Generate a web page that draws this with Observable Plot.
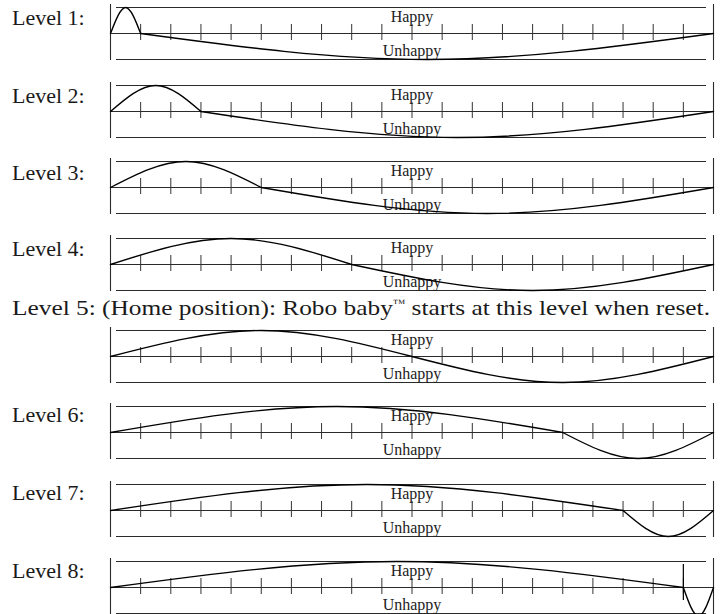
<!DOCTYPE html>
<html>
<head>
<meta charset="utf-8">
<script src="https://cdn.jsdelivr.net/npm/d3@7"></script>
<script src="https://cdn.jsdelivr.net/npm/@observablehq/plot@0.6"></script>
<style>
  html, body { margin: 0; padding: 0; background: #fff; }
  #root { position: relative; width: 723px; height: 614px; overflow: hidden; }
  #root > svg.lbl { position: absolute; left: 0; top: 0; }
  .panel { position: absolute; left: 0; }
</style>
</head>
<body>
<div id="root"></div>
<script>
// ---- data ----
const levels = [1, 2, 3, 4, 5, 6, 7, 8];
const levelLabels = [
  "Level 1:", "Level 2:", "Level 3:", "Level 4:",
  "Level 5: (Home position): Robo baby™ starts at this level when reset.",
  "Level 6:", "Level 7:", "Level 8:"
];
const crossAt   = [1, 3, 5, 8, 10, 15, 17, 19];          // tick where curve crosses from Happy to Unhappy
const peakAt    = [0.5, 1.5, 2.5, 4, 5, 7.5, 8.5, 9.5];   // position of the Happy peak
const troughAt  = [10.5, 11.5, 12.5, 14, 15, 17.5, 18.5, 19.5]; // position of the Unhappy trough
const peakHeight  = [1, 1, 1, 1, 1, 1, 1, 1];
const troughDepth = [1, 1, 1, 1, 1, 1, 1, 1.1];
const markerAt  = [null, null, null, null, null, null, null, 19];
const scaleEnds = [0, 20];
const tickPositions = [1, 2, 3, 4, 5, 6, 7, 8, 9, 10, 11, 12, 13, 14, 15, 16, 17, 18, 19];
const happyText = "Happy";
const unhappyText = "Unhappy";

// ---- layout ----
const axisY = [33, 111, 187, 264, 356, 432, 510, 587];
const labelBaseline = [25, 103, 180, 256, 315, 422, 500, 578];
const W = 723, H = 62, MT = 6, MB = 4, ML = 110, MR = 10;

const root = document.getElementById("root");

levels.forEach((lv, i) => {
  const curve = [
    {hump: "up", x: scaleEnds[0], y: 0},
    {hump: "up", x: peakAt[i], y: peakHeight[i]},
    {hump: "up", x: crossAt[i], y: 0},
    {hump: "down", x: crossAt[i], y: 0},
    {hump: "down", x: troughAt[i], y: -troughDepth[i]},
    {hump: "down", x: scaleEnds[1], y: 0}
  ];
  const marks = [
    Plot.ruleY([1, -1], {stroke: "#2a2a2a", strokeWidth: 1.1, insetLeft: 6, insetRight: 7}),
    Plot.ruleY([0], {stroke: "#2a2a2a", strokeWidth: 1.1}),
    Plot.ruleX(scaleEnds, {stroke: "#2a2a2a", strokeWidth: 1.1, insetTop: -3, insetBottom: -1}),
    Plot.ruleX(tickPositions, {stroke: "#333", strokeWidth: 1, insetTop: 17, insetBottom: 19}),
    Plot.text([happyText], {text: d => d, frameAnchor: "top", lineAnchor: "bottom", dy: 14, fontSize: 16, fill: "#222"}),
    Plot.text([unhappyText], {text: d => d, frameAnchor: "bottom", lineAnchor: "bottom", dy: -4, fontSize: 16, fill: "#222"}),
    Plot.line(curve, {x: "x", y: "y", z: "hump", curve: "natural", stroke: "#000", strokeWidth: 1.4})
  ];
  if (markerAt[i] != null) {
    marks.push(Plot.ruleX([markerAt[i]], {stroke: "#000", strokeWidth: 1.2, insetTop: 3, insetBottom: 13}));
  }
  const chart = Plot.plot({
    width: W, height: H,
    marginTop: MT, marginBottom: MB, marginLeft: ML, marginRight: MR,
    x: {domain: scaleEnds, axis: null},
    y: {domain: [-1, 1], axis: null},
    style: {fontFamily: "'Liberation Serif', serif", background: "transparent", overflow: "visible"},
    marks
  });
  chart.classList.add("panel");
  chart.style.top = (axisY[i] - 32) + "px";
  root.appendChild(chart);
});

// level labels
const svg = d3.select(root).append("svg").attr("class", "lbl")
  .attr("width", W).attr("height", 614);
levels.forEach((lv, i) => {
  const t = svg.append("text")
    .attr("x", 12).attr("y", labelBaseline[i])
    .attr("font-family", "'Liberation Serif', serif")
    .attr("font-size", 22).attr("fill", "#1a1a1a");
  const parts = levelLabels[i].split("™");
  t.append("tspan").text(parts[0]);
  if (parts.length > 1) {
    t.append("tspan").attr("font-size", 11).attr("dy", -8).text("™");
    t.append("tspan").attr("dy", 8).text(parts[1]);
    t.attr("textLength", 698).attr("lengthAdjust", "spacingAndGlyphs");
  }
});
</script>
</body>
</html>
